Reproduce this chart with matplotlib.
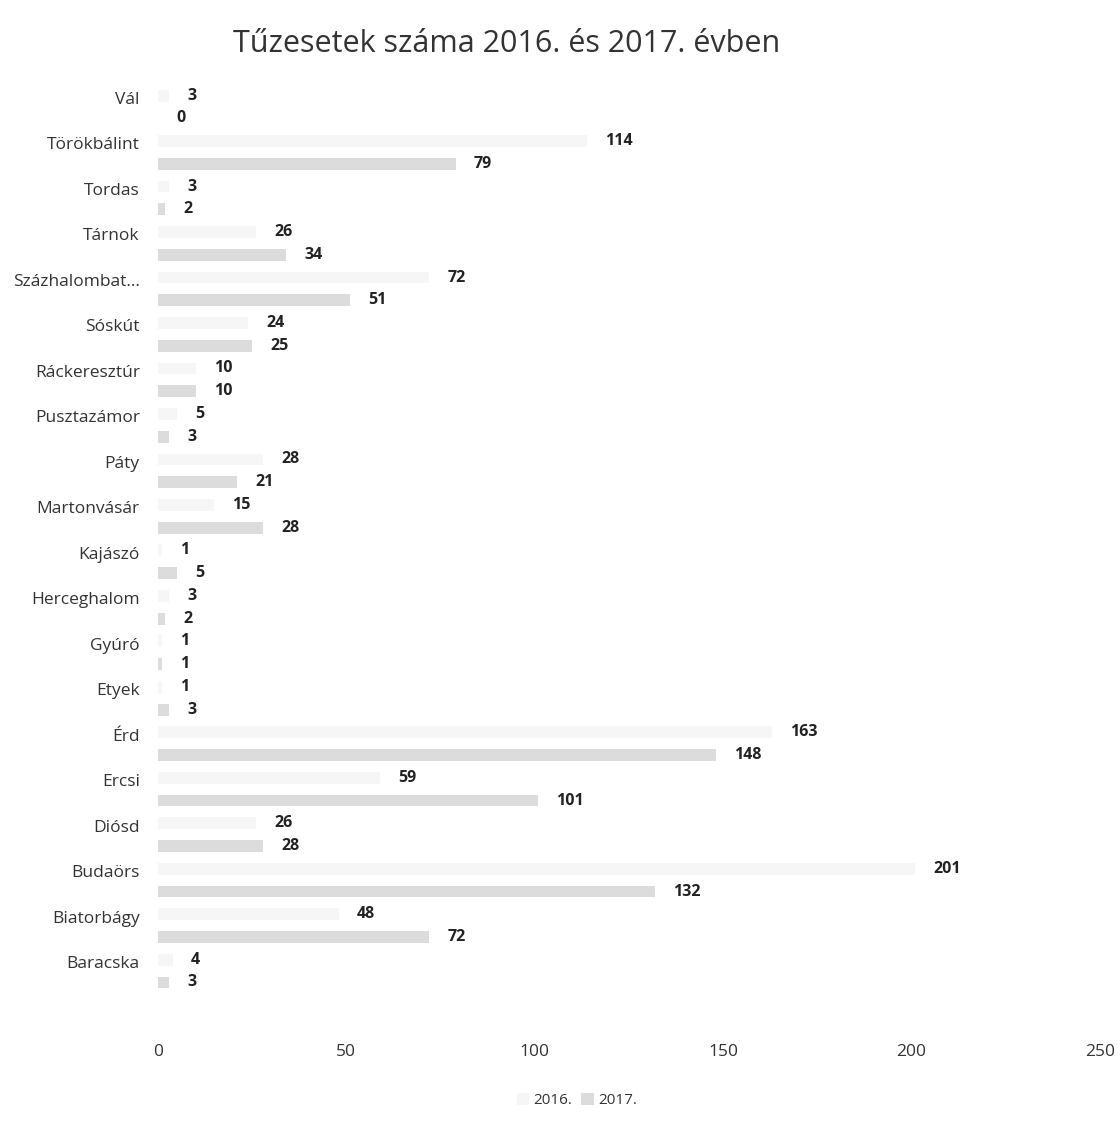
import numpy as np
import matplotlib.pyplot as plt

plt.rcParams['font.family'] = ['Open Sans', 'DejaVu Sans']

# Tűzesetek száma településenként (alulról felfelé)
telepulesek = ['Baracska', 'Biatorbágy', 'Budaörs', 'Diósd', 'Ercsi', 'Érd',
               'Etyek', 'Gyúró', 'Herceghalom', 'Kajászó', 'Martonvásár',
               'Páty', 'Pusztazámor', 'Ráckeresztúr', 'Sóskút',
               'Százhalombat...', 'Tárnok', 'Tordas', 'Törökbálint', 'Vál']
ev_2016 = [4, 48, 201, 26, 59, 163, 1, 1, 3, 1, 15, 28, 5, 10, 24, 72, 26, 3, 114, 3]
ev_2017 = [3, 72, 132, 28, 101, 148, 3, 1, 2, 5, 28, 21, 3, 10, 25, 51, 34, 2, 79, 0]

y = np.arange(len(telepulesek))
h = 0.26

fig = plt.figure(figsize=(11.2, 11.23), dpi=100)
ax = fig.add_axes([0.141, 0.115, 0.841, 0.81])

b16 = ax.barh(y + 0.25, ev_2016, height=h, color='#f6f6f6', label='2016.')
b17 = ax.barh(y - 0.25, ev_2017, height=h, color='#dcdcdc', label='2017.')
ax.bar_label(b16, padding=13, fontsize=11.5, fontweight='bold', color='#222222')
ax.bar_label(b17, padding=13, fontsize=11.5, fontweight='bold', color='#222222')

ax.set_xlim(0, 250)
ax.set_ylim(-0.5, len(telepulesek) - 0.5)
ax.set_xticks(range(0, 251, 50))
ax.set_yticks(y + 0.2)
ax.set_yticklabels(telepulesek)
ax.tick_params(axis='y', length=0, pad=13, labelsize=12.5, labelcolor='#333333')
ax.tick_params(axis='x', length=0, pad=36, labelsize=12.5, labelcolor='#333333')
for s in ax.spines.values():
    s.set_visible(False)

fig.suptitle('Tűzesetek száma 2016. és 2017. évben', x=0.452, y=0.974,
             fontsize=22, color='#333333')
fig.legend(loc='center', bbox_to_anchor=(0.515, 0.02), ncol=2, frameon=False,
           fontsize=11, handlelength=0.8, handleheight=0.8, columnspacing=0.6,
           handletextpad=0.3, labelcolor='#333333')

plt.savefig('out.png')
